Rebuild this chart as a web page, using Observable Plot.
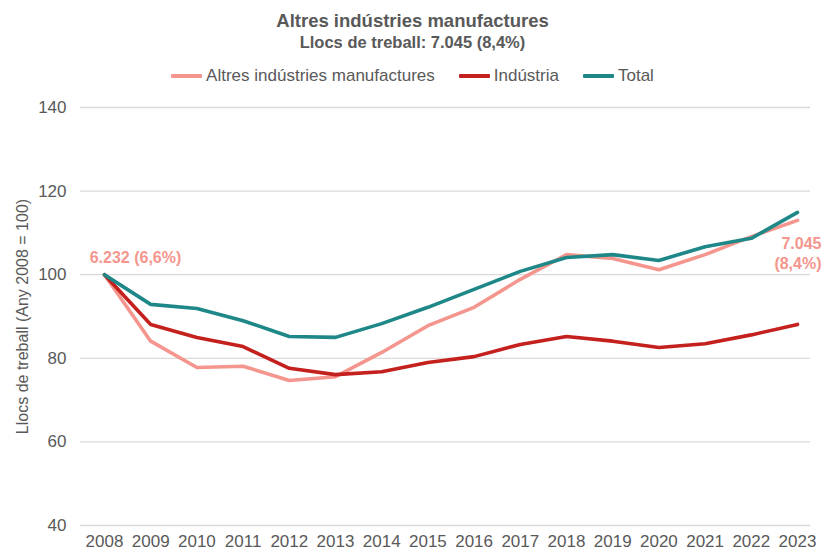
<!DOCTYPE html>
<html><head><meta charset="utf-8">
<script src="https://cdn.jsdelivr.net/npm/d3@7"></script>
<script src="https://cdn.jsdelivr.net/npm/@observablehq/plot@0.6"></script>
<style>
body{margin:0;background:#fff;font-family:"Liberation Sans",Arial,sans-serif;color:#595959;}
#wrap{width:825px;}
#head{height:90px;overflow:hidden;}
.t1{text-align:center;font-weight:bold;font-size:18.5px;padding-top:10px;line-height:22px;}
.t2{text-align:center;font-weight:bold;font-size:16.5px;line-height:20px;}
.legend{display:flex;justify-content:center;align-items:center;margin-top:13px;font-size:17px;height:22px;}
.legend span.item{display:flex;align-items:center;margin:0 12px;}
.legend i{display:inline-block;width:31px;height:4px;margin-right:4px;border-radius:1px;}
#chart svg{display:block;}
</style></head>
<body><div id="wrap">
<div id="head">
<div class="t1">Altres indústries manufactures</div>
<div class="t2">Llocs de treball: 7.045 (8,4%)</div>
<div class="legend" id="legend"></div>
</div>
<div id="chart"></div>
</div>
<script>
const years = [2008,2009,2010,2011,2012,2013,2014,2015,2016,2017,2018,2019,2020,2021,2022,2023];
const seriesNames = ["Altres indústries manufactures","Indústria","Total"];
const altres = [100,84.1,77.8,78.1,74.7,75.6,81.4,87.8,92.2,98.9,104.8,103.9,101.2,104.8,109.1,113.0];
const industria = [100,88.1,85.0,82.8,77.6,76.1,76.8,79.0,80.4,83.3,85.2,84.1,82.6,83.5,85.6,88.1];
const total = [100,92.9,91.9,89.0,85.2,85.0,88.3,92.2,96.5,100.8,104.1,104.8,103.4,106.7,108.7,114.9];
const colors = ["#F4968E","#C4201D","#1E8787"];
const yTicks = [40,60,80,100,120,140];
const firstLabel = "6.232 (6,6%)";
const lastLabel = "7.045\n(8,4%)";
const yLabel = "Llocs de treball (Any 2008 = 100)";

const values = [altres, industria, total];
const data = [];
seriesNames.forEach((s,i)=>years.forEach((y,j)=>data.push({series:s, year:y, value:values[i][j]})));

const lg = document.getElementById("legend");
seriesNames.forEach((s,i)=>{
  const it=document.createElement("span");it.className="item";
  it.innerHTML=`<i style="background:${colors[i]}"></i>${s}`;
  lg.appendChild(it);
});

const chart = Plot.plot({
  width:825, height:462,
  marginLeft:80, marginRight:15, marginTop:17, marginBottom:27,
  style:{fontFamily:"Liberation Sans, Arial, sans-serif", color:"#595959", background:"#fff", fontSize:"17px"},
  x:{type:"linear", domain:[2008,2023], insetLeft:24, insetRight:13, label:null},
  y:{domain:[40,140], label:null},
  color:{domain:seriesNames, range:colors},
  marks:[
    Plot.ruleY(yTicks,{stroke:"#d9d9d9", strokeWidth:1.3}),
    Plot.axisX({ticks:years, tickFormat:d=>String(d), tickSize:0, tickPadding:9, fontSize:17, fill:"#595959", label:null}),
    Plot.axisY({ticks:yTicks, tickSize:0, tickPadding:14, fontSize:17, fill:"#595959", label:null}),
    Plot.text([yLabel],{frameAnchor:"left", textAnchor:"middle", dx:-58, rotate:-90, fontSize:16, fill:"#595959", text:d=>d}),
    Plot.line(data,{x:"year", y:"value", z:"series", stroke:"series", strokeWidth:3.6, strokeLinejoin:"round"}),
    Plot.text([{year:years[0], value:altres[0]}],{x:"year", y:"value", text:()=>firstLabel, dx:31, dy:-17, fontSize:16, fontWeight:"bold", fill:colors[0]}),
    Plot.text([{year:years[years.length-1], value:altres[altres.length-1]}],{x:"year", y:"value", text:()=>lastLabel, dx:24, dy:32, textAnchor:"end", lineHeight:1.25, fontSize:16, fontWeight:"bold", fill:colors[0]})
  ]
});
document.getElementById("chart").appendChild(chart);
</script>
</body></html>
